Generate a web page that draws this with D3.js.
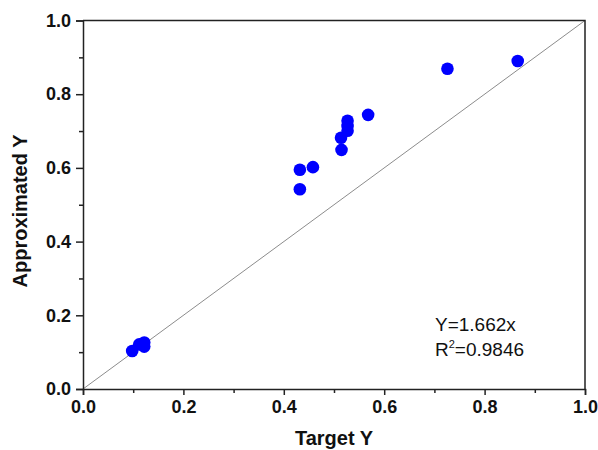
<!DOCTYPE html>
<html>
<head>
<meta charset="utf-8">
<script src="https://cdn.jsdelivr.net/npm/d3@7"></script>
<style>
  html, body { margin: 0; padding: 0; background: #fff; overflow: hidden; }
  #viz { width: 598px; height: 450px; }
  text { font-family: Arial, "Liberation Sans", sans-serif; }
</style>
</head>
<body>
<div id="viz"></div>
<script>
// data
const targetY = [0.098, 0.112, 0.122, 0.122, 0.432, 0.432, 0.458, 0.514, 0.515, 0.527, 0.527, 0.527, 0.568, 0.726, 0.866];
const approxY = [0.103, 0.121, 0.126, 0.115, 0.542, 0.595, 0.602, 0.682, 0.649, 0.728, 0.714, 0.701, 0.744, 0.869, 0.890];
const majorTicks = [0, 0.2, 0.4, 0.6, 0.8, 1.0];
const minorTicks = [0.1, 0.3, 0.5, 0.7, 0.9];
const fitSlope = "1.662";
const fitR2 = "0.9846";

const width = 598, height = 450;
const margin = { top: 20.5, right: 13, bottom: 61, left: 83 };

const svg = d3.select("#viz").append("svg")
    .attr("width", width)
    .attr("height", height);

const x = d3.scaleLinear().domain([0, 1]).range([margin.left, width - margin.right]);
const y = d3.scaleLinear().domain([0, 1]).range([height - margin.bottom, margin.top]);

const AXIS = "#222";

// diagonal y = x
svg.append("line")
    .attr("x1", x(0)).attr("y1", y(0))
    .attr("x2", x(1)).attr("y2", y(1))
    .attr("stroke", "#8c8c8c")
    .attr("stroke-width", 1);

// frame (top & right, no ticks)
svg.append("path")
    .attr("d", `M${x(0)},${y(1)}H${x(1)}V${y(0)}`)
    .attr("fill", "none")
    .attr("stroke", AXIS)
    .attr("stroke-width", 1.5);

// x axis
svg.append("g")
    .attr("transform", `translate(0,${y(0)})`)
    .call(d3.axisBottom(x).tickValues(majorTicks).tickFormat(d3.format(".1f")).tickSize(6).tickPadding(5));
svg.append("g")
    .attr("transform", `translate(0,${y(0)})`)
    .call(d3.axisBottom(x).tickValues(minorTicks).tickFormat("").tickSize(4))
    .select(".domain").remove();

// y axis
svg.append("g")
    .attr("transform", `translate(${x(0)},0)`)
    .call(d3.axisLeft(y).tickValues(majorTicks).tickFormat(d3.format(".1f")).tickSize(7).tickPadding(5));
svg.append("g")
    .attr("transform", `translate(${x(0)},0)`)
    .call(d3.axisLeft(y).tickValues(minorTicks).tickFormat("").tickSize(4))
    .select(".domain").remove();

svg.selectAll(".domain, .tick line")
    .attr("stroke", AXIS)
    .attr("stroke-width", 1.5);
svg.selectAll(".tick text")
    .attr("fill", "#111")
    .style("font-size", "18px")
    .style("font-weight", "bold")
    .style("font-family", "Arial, 'Liberation Sans', sans-serif");

// points
svg.append("g")
    .selectAll("circle")
    .data(targetY.map((t, i) => [t, approxY[i]]))
    .join("circle")
    .attr("cx", d => x(d[0]))
    .attr("cy", d => y(d[1]))
    .attr("r", 6.3)
    .attr("fill", "#0000ff");

// axis titles
svg.append("text")
    .attr("x", (x(0) + x(1)) / 2)
    .attr("y", 445)
    .attr("text-anchor", "middle")
    .style("font-size", "20px")
    .style("font-weight", "bold")
    .attr("fill", "#111")
    .text("Target Y");

svg.append("text")
    .attr("transform", `translate(27,211) rotate(-90)`)
    .attr("text-anchor", "middle")
    .style("font-size", "20px")
    .style("font-weight", "bold")
    .attr("fill", "#111")
    .text("Approximated Y");

// fit annotation
const note = svg.append("g").attr("fill", "#111").style("font-size", "19px");
note.append("text")
    .attr("x", 435).attr("y", 331)
    .text(`Y=${fitSlope}x`);
const r2 = note.append("text").attr("x", 435).attr("y", 356);
r2.append("tspan").text("R");
r2.append("tspan").attr("dy", -8).style("font-size", "11px").text("2");
r2.append("tspan").attr("dy", 8).text(`=${fitR2}`);
</script>
</body>
</html>
